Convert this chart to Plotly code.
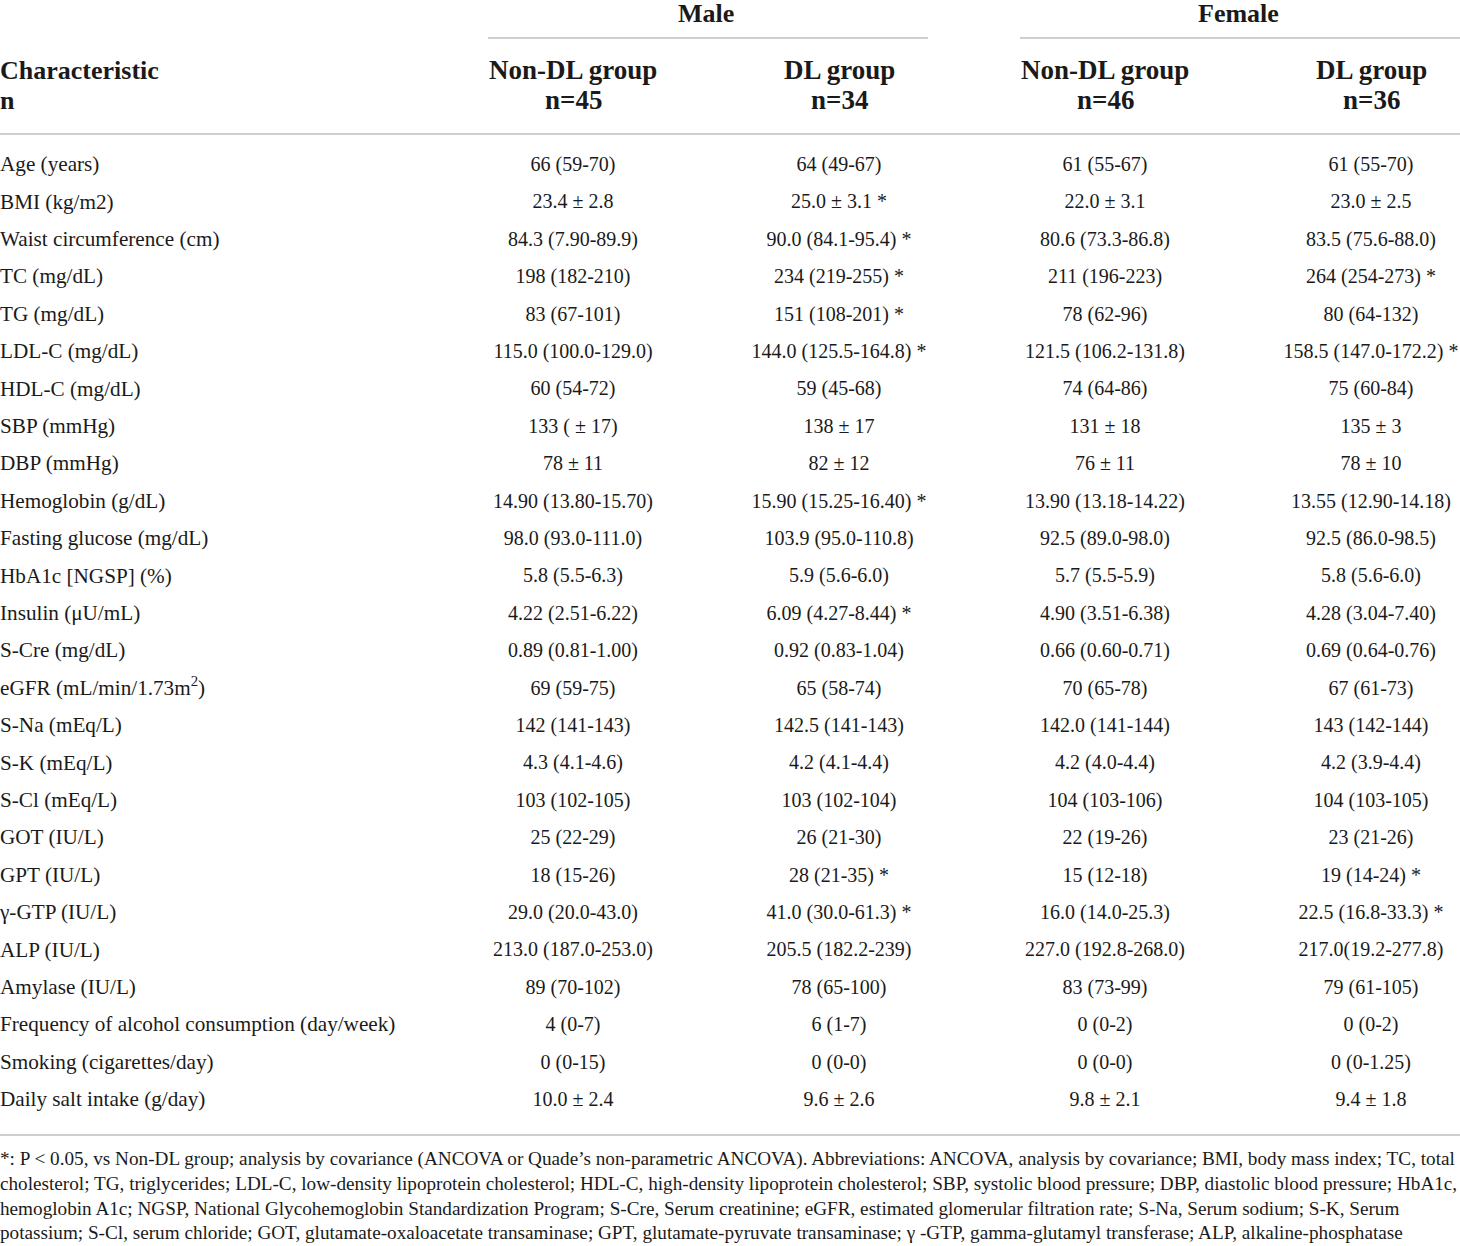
import plotly.graph_objects as go

# datos de la tabla
caracteristicas = [
    "Age (years)", "BMI (kg/m2)", "Waist circumference (cm)", "TC (mg/dL)",
    "TG (mg/dL)", "LDL-C (mg/dL)", "HDL-C (mg/dL)", "SBP (mmHg)", "DBP (mmHg)",
    "Hemoglobin (g/dL)", "Fasting glucose (mg/dL)", "HbA1c [NGSP] (%)",
    "Insulin (μU/mL)", "S-Cre (mg/dL)", "eGFR (mL/min/1.73m<sup>2</sup>)",
    "S-Na (mEq/L)", "S-K (mEq/L)", "S-Cl (mEq/L)", "GOT (IU/L)", "GPT (IU/L)",
    "γ-GTP (IU/L)", "ALP (IU/L)", "Amylase (IU/L)",
    "Frequency of alcohol consumption (day/week)", "Smoking (cigarettes/day)",
    "Daily salt intake (g/day)",
]

male_non_dl = [
    "66 (59-70)", "23.4 ± 2.8", "84.3 (7.90-89.9)", "198 (182-210)", "83 (67-101)",
    "115.0 (100.0-129.0)", "60 (54-72)", "133 ( ± 17)", "78 ± 11",
    "14.90 (13.80-15.70)", "98.0 (93.0-111.0)", "5.8 (5.5-6.3)", "4.22 (2.51-6.22)",
    "0.89 (0.81-1.00)", "69 (59-75)", "142 (141-143)", "4.3 (4.1-4.6)",
    "103 (102-105)", "25 (22-29)", "18 (15-26)", "29.0 (20.0-43.0)",
    "213.0 (187.0-253.0)", "89 (70-102)", "4 (0-7)", "0 (0-15)", "10.0 ± 2.4",
]
male_dl = [
    "64 (49-67)", "25.0 ± 3.1 *", "90.0 (84.1-95.4) *", "234 (219-255) *",
    "151 (108-201) *", "144.0 (125.5-164.8) *", "59 (45-68)", "138 ± 17", "82 ± 12",
    "15.90 (15.25-16.40) *", "103.9 (95.0-110.8)", "5.9 (5.6-6.0)",
    "6.09 (4.27-8.44) *", "0.92 (0.83-1.04)", "65 (58-74)", "142.5 (141-143)",
    "4.2 (4.1-4.4)", "103 (102-104)", "26 (21-30)", "28 (21-35) *",
    "41.0 (30.0-61.3) *", "205.5 (182.2-239)", "78 (65-100)", "6 (1-7)", "0 (0-0)",
    "9.6 ± 2.6",
]
female_non_dl = [
    "61 (55-67)", "22.0 ± 3.1", "80.6 (73.3-86.8)", "211 (196-223)", "78 (62-96)",
    "121.5 (106.2-131.8)", "74 (64-86)", "131 ± 18", "76 ± 11",
    "13.90 (13.18-14.22)", "92.5 (89.0-98.0)", "5.7 (5.5-5.9)", "4.90 (3.51-6.38)",
    "0.66 (0.60-0.71)", "70 (65-78)", "142.0 (141-144)", "4.2 (4.0-4.4)",
    "104 (103-106)", "22 (19-26)", "15 (12-18)", "16.0 (14.0-25.3)",
    "227.0 (192.8-268.0)", "83 (73-99)", "0 (0-2)", "0 (0-0)", "9.8 ± 2.1",
]
female_dl = [
    "61 (55-70)", "23.0 ± 2.5", "83.5 (75.6-88.0)", "264 (254-273) *", "80 (64-132)",
    "158.5 (147.0-172.2) *", "75 (60-84)", "135 ± 3", "78 ± 10",
    "13.55 (12.90-14.18)", "92.5 (86.0-98.5)", "5.8 (5.6-6.0)", "4.28 (3.04-7.40)",
    "0.69 (0.64-0.76)", "67 (61-73)", "143 (142-144)", "4.2 (3.9-4.4)",
    "104 (103-105)", "23 (21-26)", "19 (14-24) *", "22.5 (16.8-33.3) *",
    "217.0(19.2-277.8)", "79 (61-105)", "0 (0-2)", "0 (0-1.25)", "9.4 ± 1.8",
]

grupos_sexo = ["Male", "Female"]
grupos = ["Non-DL group", "DL group", "Non-DL group", "DL group"]
n_grupos = ["n=45", "n=34", "n=46", "n=36"]

nota = [
    "*: P < 0.05, vs Non-DL group; analysis by covariance (ANCOVA or Quade’s non-parametric ANCOVA). Abbreviations: ANCOVA, analysis by covariance; BMI, body mass index; TC, total",
    "cholesterol; TG, triglycerides; LDL-C, low-density lipoprotein cholesterol; HDL-C, high-density lipoprotein cholesterol; SBP, systolic blood pressure; DBP, diastolic blood pressure; HbA1c,",
    "hemoglobin A1c; NGSP, National Glycohemoglobin Standardization Program; S-Cre, Serum creatinine; eGFR, estimated glomerular filtration rate; S-Na, Serum sodium; S-K, Serum",
    "potassium; S-Cl, serum chloride; GOT, glutamate-oxaloacetate transaminase; GPT, glutamate-pyruvate transaminase; γ -GTP, gamma-glutamyl transferase; ALP, alkaline-phosphatase",
]

# geometria (en pixeles)
W, H = 1460, 1246
FUENTE = "Liberation Serif"
COLOR = "#1a1a1a"
LINEA = "#cfcfcf"
y0, paso = 166, 37.4
x_cols = [573, 839, 1105, 1371]
ys = [y0 + i * paso for i in range(len(caracteristicas))]

fig = go.Figure()

fig.add_trace(go.Scatter(
    x=[0] * len(caracteristicas), y=ys, text=caracteristicas, mode="text",
    textposition="middle right", textfont=dict(family=FUENTE, size=21.2, color=COLOR),
    hoverinfo="skip", showlegend=False,
))
for xc, col in zip(x_cols, [male_non_dl, male_dl, female_non_dl, female_dl]):
    fig.add_trace(go.Scatter(
        x=[xc] * len(col), y=ys, text=col, mode="text",
        textposition="middle center", textfont=dict(family=FUENTE, size=20, color=COLOR),
        hoverinfo="skip", showlegend=False,
    ))

# encabezados
for i, sexo in enumerate(grupos_sexo):
    xc = (x_cols[2 * i] + x_cols[2 * i + 1]) / 2
    fig.add_annotation(x=xc, y=13, text=f"<b>{sexo}</b>", showarrow=False,
                       font=dict(family=FUENTE, size=26, color=COLOR))
    fig.add_shape(type="line", x0=x_cols[2 * i] - 85, x1=x_cols[2 * i + 1] + 89,
                  y0=38, y1=38, line=dict(color=LINEA, width=2))

fig.add_annotation(x=0, y=70, text="<b>Characteristic</b>", showarrow=False, xanchor="left",
                   xshift=-2, font=dict(family=FUENTE, size=26, color=COLOR))
fig.add_annotation(x=0, y=100, text="<b>n</b>", showarrow=False, xanchor="left",
                   xshift=-2, font=dict(family=FUENTE, size=26, color=COLOR))
for xc, g, n in zip(x_cols, grupos, n_grupos):
    fig.add_annotation(x=xc, y=70, text=f"<b>{g}</b>", showarrow=False,
                       font=dict(family=FUENTE, size=27, color=COLOR))
    fig.add_annotation(x=xc, y=100, text=f"<b>{n}</b>", showarrow=False,
                       font=dict(family=FUENTE, size=27, color=COLOR))

fig.add_shape(type="line", x0=0, x1=W, y0=134, y1=134, line=dict(color=LINEA, width=2))
fig.add_shape(type="line", x0=0, x1=W, y0=1135, y1=1135, line=dict(color=LINEA, width=2))

# nota al pie
for i, linea in enumerate(nota):
    fig.add_annotation(x=0, y=1159 + i * 24.5, text=linea, showarrow=False, xanchor="left",
                       xshift=-2, font=dict(family=FUENTE, size=19.2, color=COLOR))

fig.update_layout(
    width=W, height=H,
    margin=dict(l=0, r=0, t=0, b=0),
    paper_bgcolor="white", plot_bgcolor="white",
    xaxis=dict(range=[0, W], visible=False, fixedrange=True),
    yaxis=dict(range=[H, 0], visible=False, fixedrange=True),
)

fig.write_html("out.html", config={"displayModeBar": False},
               post_script="document.body.style.margin='0px';")
